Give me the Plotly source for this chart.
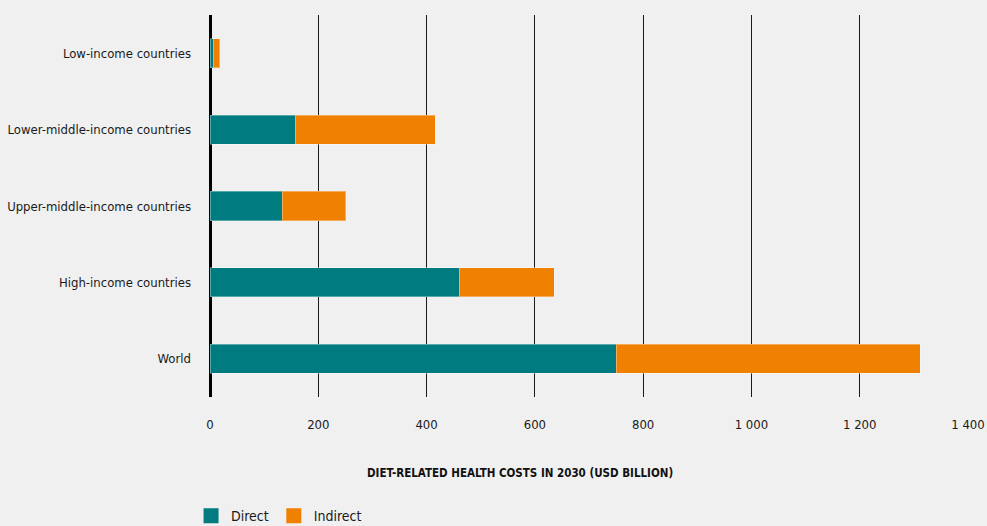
import plotly.graph_objects as go

categories = ["Low-income countries", "Lower-middle-income countries",
              "Upper-middle-income countries", "High-income countries", "World"]
direct = [7, 158, 133, 461, 750]
indirect = [11, 258, 118, 175, 562]
series_names = ["Direct", "Indirect"]
colors = ["#007C80", "#F08000"]
x_ticks = [0, 200, 400, 600, 800, 1000, 1200, 1400]
x_title = "DIET-RELATED HEALTH COSTS IN 2030 (USD BILLION)"

FONT = "DejaVu Sans Condensed, Liberation Sans Narrow, sans-serif"
BG = "#F0F0F0"

fig = go.Figure()
for name, vals, col in zip(series_names, [direct, indirect], colors):
    fig.add_trace(go.Bar(
        y=categories, x=vals, orientation="h", name=name,
        marker=dict(color=col, line=dict(color="rgba(255,255,255,0.35)", width=1)),
        width=0.38, showlegend=False,
    ))
    # legend entry with larger square symbol
    fig.add_trace(go.Scatter(
        x=[None], y=[None], mode="markers", name=name,
        marker=dict(symbol="square", size=15, color=col),
        showlegend=True,
    ))

fig.update_layout(
    width=987, height=526,
    barmode="stack",
    paper_bgcolor=BG, plot_bgcolor=BG,
    margin=dict(l=210, r=19, t=15, b=129, autoexpand=False),
    font=dict(family=FONT, size=13, color="#1a1a1a"),
    separators=". ",
    legend=dict(orientation="h", x=-0.025, xanchor="left", y=-0.27, yanchor="top",
                font=dict(size=14), itemwidth=30, tracegroupgap=0,
                traceorder="normal", bgcolor="rgba(0,0,0,0)"),
    annotations=[dict(
        text="<b>" + x_title + "</b>", xref="paper", yref="paper",
        x=0.409, y=-0.198, xanchor="center", yanchor="middle",
        showarrow=False, font=dict(family=FONT, size=11.5, color="#111"),
    )],
)
fig.update_xaxes(
    range=[0, 1400], tickvals=x_ticks, tickformat=",",
    showgrid=True, gridcolor="#1a1a1a", gridwidth=1.4,
    zeroline=True, zerolinecolor="#000", zerolinewidth=3,
    ticks="", ticklabelstandoff=18, showline=False, automargin=False,
    tickfont=dict(size=13), fixedrange=True,
)
fig.update_yaxes(
    categoryorder="array", categoryarray=categories[::-1],
    range=[-0.5, 4.5], showgrid=False, zeroline=False, showline=False,
    ticks="", ticklabelstandoff=18, tickfont=dict(size=13), fixedrange=True,
    automargin=False,
)

fig.write_html("out.html", config={"displayModeBar": False},
               post_script="document.body.style.margin='0';")
